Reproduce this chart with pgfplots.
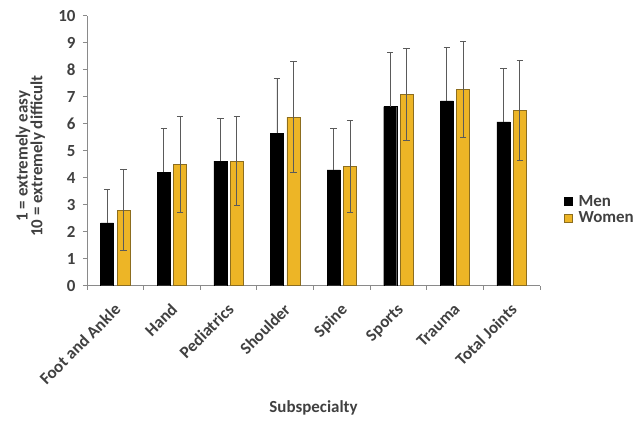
\documentclass[border=0pt]{standalone}
\usepackage{pgfplots}
\pgfplotsset{compat=1.18}
\usepackage{pgfplotstable}
\usepackage{fontspec}
\setmainfont{Carlito}

\definecolor{womenfill}{HTML}{EDB526}
\definecolor{womenedge}{HTML}{8C6D1F}
\definecolor{errgray}{HTML}{5A5A5A}
\definecolor{axisgray}{HTML}{8A8A8A}
\definecolor{labelgray}{HTML}{404040}

% difficulty rating (mean and SD) by subspecialty
\pgfplotstableread{
x    men   menerr  women  womenerr
0.5  2.33  1.25    2.80   1.50
1.5  4.21  1.62    4.50   1.78
2.5  4.61  1.60    4.61   1.65
3.5  5.64  2.03    6.24   2.05
4.5  4.29  1.55    4.41   1.70
5.5  6.63  2.00    7.09   1.70
6.5  6.85  1.98    7.27   1.77
7.5  6.07  1.97    6.48   1.85
}\ratings

\begin{document}
\begin{tikzpicture}
\path[use as bounding box] (-87bp,-135.3bp) rectangle (552bp,285.7bp);
\begin{axis}[
  at={(0,0)}, anchor=origin,
  scale only axis,
  width=453bp, height=270bp,
  font=\bfseries\fontsize{17}{18}\selectfont,
  ybar,
  bar width=0.23,
  xmin=0, xmax=8,
  ymin=0, ymax=10,
  ytick={0,1,...,10},
  xtick={0.5,1.5,...,7.5},
  xticklabels={Foot and Ankle,Hand,Pediatrics,Shoulder,Spine,Sports,Trauma,Total Joints},
  minor xtick={0,1,...,8},
  major x tick style={draw=none},
  tick align=outside,
  major tick length=4bp,
  minor tick length=4bp,
  tick style={axisgray, line width=0.8pt},
  axis x line*=bottom,
  axis y line*=left,
  axis line style={axisgray, line width=0.8pt, -},
  xticklabel shift=9bp,
  yticklabel shift=4bp,
  xticklabel style={rotate=45, anchor=north east, inner sep=1pt, xshift=-3bp, text=labelgray},
  yticklabel style={text=labelgray},
  /pgf/number format/assume math mode=true,
  xlabel={Subspecialty},
  xlabel style={at={(axis description cs:0.5,-0.453)}, anchor=center, text=labelgray},
  ylabel={1 = extremely easy\\10 = extremely difficult},
  ylabel style={align=center, at={(axis description cs:-0.125,0.48)}, anchor=center, text=labelgray, font=\bfseries\fontsize{17}{15}\selectfont},
  legend style={at={(axis description cs:1.045,0.282)}, anchor=west, draw=none, fill=none,
    row sep=1bp, font=\bfseries\fontsize{17}{18}\selectfont, text=labelgray,
    nodes={inner sep=1.5bp}},
  legend cell align=left,
  legend image code/.code={\draw[#1] (0bp,-4bp) rectangle (8bp,4bp); \path (13bp,0bp);},
  error bars/error bar style={errgray, line width=0.9pt},
  error bars/error mark options={rotate=90, mark size=3.2bp, errgray, line width=0.9pt},
]
\addplot[fill=black, draw=black, bar shift=-0.145,
  error bars/.cd, y dir=plus, y explicit]
  table[x=x, y=men, y error=menerr] {\ratings};
\addlegendentry{Men}
\addplot[fill=womenfill, draw=womenedge, line width=0.6pt, bar shift=0.145,
  error bars/.cd, y dir=both, y explicit]
  table[x=x, y=women, y error=womenerr] {\ratings};
\addlegendentry{Women}
\end{axis}
\end{tikzpicture}
\end{document}
